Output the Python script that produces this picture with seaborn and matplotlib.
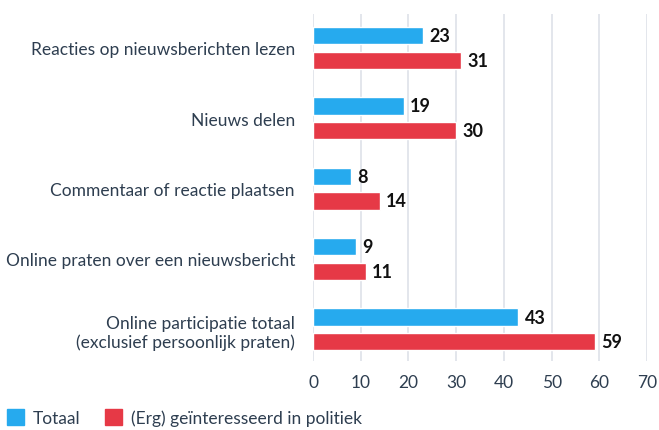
import pandas as pd
import matplotlib.pyplot as plt
import seaborn as sns

categories = [
    "Reacties op nieuwsberichten lezen",
    "Nieuws delen",
    "Commentaar of reactie plaatsen",
    "Online praten over een nieuwsbericht",
    "Online participatie totaal\n(exclusief persoonlijk praten)",
]
series = ["Totaal", "(Erg) geïnteresseerd in politiek"]
totaal = [23, 19, 8, 9, 43]
politiek = [31, 30, 14, 11, 59]
x_ticks = [0, 10, 20, 30, 40, 50, 60, 70]

colors = ["#26AAEE", "#E63946"]
text_color = "#2E3E50"

df = pd.DataFrame({
    "categorie": categories * 2,
    "groep": [series[0]] * len(categories) + [series[1]] * len(categories),
    "waarde": totaal + politiek,
})

sns.set_theme(style="white")
plt.rcParams["font.family"] = ["Lato", "DejaVu Sans"]

fig = plt.figure(figsize=(6.59, 4.31), dpi=100)
ax = fig.add_axes([0.475, 0.16, 0.507, 0.805])

sns.barplot(data=df, x="waarde", y="categorie", hue="groep", orient="h",
            palette=colors, saturation=1, width=0.7, gap=0.3, ax=ax, legend=False)

for cont in ax.containers:
    ax.bar_label(cont, padding=4.5, fontsize=13, fontweight="bold", color="#111111")

ax.set_xlim(0, 70)
ax.set_ylim(4.45, -0.48)
ax.set_xticks(x_ticks)
ax.xaxis.grid(True, color="#E1E4EB", linewidth=1.3)
ax.set_axisbelow(True)
for s in ax.spines.values():
    s.set_visible(False)
ax.set_xlabel("")
ax.set_ylabel("")
ax.tick_params(axis="x", length=0, pad=9, labelsize=12.5, labelcolor=text_color)
ax.tick_params(axis="y", length=0, pad=13, labelsize=12.5, labelcolor=text_color)

handles = [plt.Rectangle((0, 0), 1, 1, color=c) for c in colors]
fig.legend(handles, series, loc="lower left", bbox_to_anchor=(-0.013, -0.027), ncol=2,
           frameon=False, fontsize=12.5, labelcolor=text_color,
           handlelength=1.0, handleheight=1.0, handletextpad=0.5, columnspacing=1.4)

fig.savefig("out.png", dpi=100)
